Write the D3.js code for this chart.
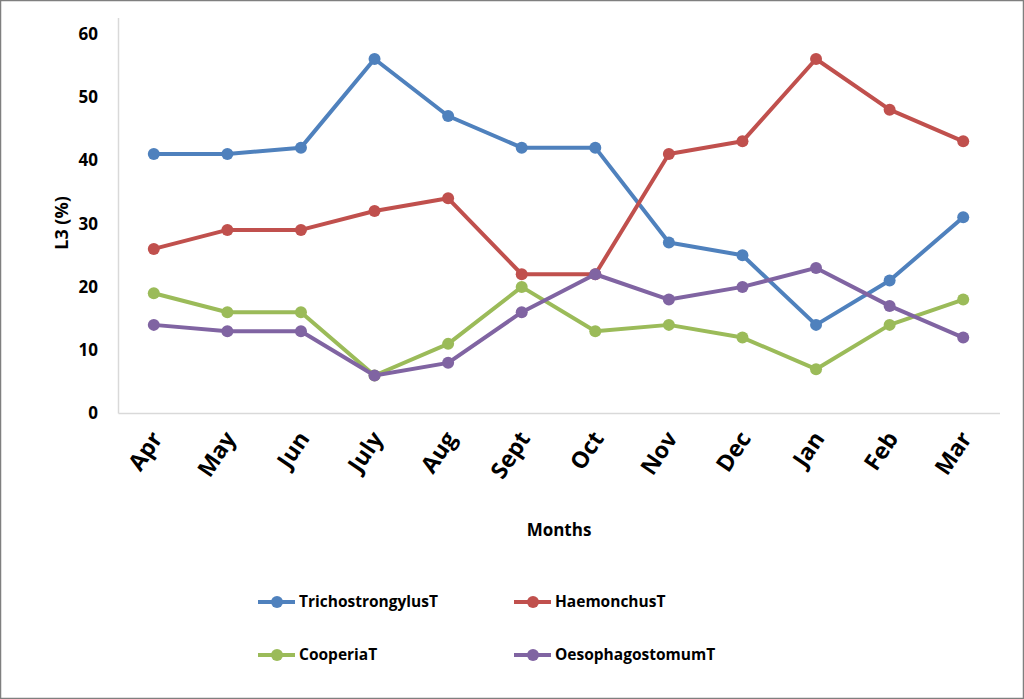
<!DOCTYPE html>
<html>
<head>
<meta charset="utf-8">
<script src="https://cdn.jsdelivr.net/npm/d3@7"></script>
<style>
  body { margin: 0; background: #fff; }
  text { font-family: "Open Sans", "Noto Sans", sans-serif; font-weight: 700; fill: #000; }
</style>
</head>
<body>
<div id="chart"></div>
<script>
const months = ["Apr", "May", "Jun", "July", "Aug", "Sept", "Oct", "Nov", "Dec", "Jan", "Feb", "Mar"];
const trichostrongylus = [41, 41, 42, 56, 47, 42, 42, 27, 25, 14, 21, 31];
const haemonchus = [26, 29, 29, 32, 34, 22, 22, 41, 43, 56, 48, 43];
const cooperia = [19, 16, 16, 6, 11, 20, 13, 14, 12, 7, 14, 18];
const oesophagostomum = [14, 13, 13, 6, 8, 16, 22, 18, 20, 23, 17, 12];
const yTicks = [0, 10, 20, 30, 40, 50, 60];

const series = [
  { name: "TrichostrongylusT", values: trichostrongylus, color: "#4F81BD" },
  { name: "HaemonchusT", values: haemonchus, color: "#C0504D" },
  { name: "CooperiaT", values: cooperia, color: "#9BBB59" },
  { name: "OesophagostomumT", values: oesophagostomum, color: "#8064A2" },
];

const W = 1024, H = 699;
const svg = d3.select("#chart").append("svg")
  .attr("width", W).attr("height", H);

// outer border
svg.append("rect")
  .attr("x", 0.5).attr("y", 0.5)
  .attr("width", W - 1).attr("height", H - 1)
  .attr("fill", "#fff").attr("stroke", "#7f7f7f").attr("stroke-width", 1.5);

const x = d3.scalePoint().domain(months).range([117, 1000]).padding(0.5);
const y = d3.scaleLinear().domain([0, 60]).range([413.5, 33.7]);

// axis lines
svg.append("line")
  .attr("x1", 118.5).attr("x2", 118.5)
  .attr("y1", 18).attr("y2", y(0))
  .attr("stroke", "#d9d9d9").attr("stroke-width", 1.5);
svg.append("line")
  .attr("x1", 118.5).attr("x2", 1000)
  .attr("y1", y(0)).attr("y2", y(0))
  .attr("stroke", "#d9d9d9").attr("stroke-width", 1.5);

// y tick labels
const yAxis = d3.axisLeft(y).tickValues(yTicks).tickSize(0).tickPadding(0);
const gy = svg.append("g").attr("transform", "translate(98,0)").call(yAxis);
gy.select(".domain").remove();
gy.selectAll("text")
  .style("font-size", "17px")
  .style("font-family", "'Open Sans', sans-serif")
  .style("font-weight", 700)
  .attr("fill", "#000");

// x tick labels
const xAxis = d3.axisBottom(x).tickSize(0).tickPadding(0);
const gx = svg.append("g").attr("transform", `translate(0,${y(0)})`).call(xAxis);
gx.select(".domain").remove();
gx.selectAll("text")
  .style("font-size", "23px")
  .style("font-family", "'Open Sans', sans-serif")
  .style("font-weight", 700)
  .attr("fill", "#000")
  .attr("text-anchor", "end")
  .attr("dy", null)
  .attr("y", 0)
  .attr("transform", "translate(9,25) rotate(-56)");

// stray dot beside Nov
svg.append("text")
  .attr("x", x("Nov") + 3).attr("y", 443)
  .style("font-size", "10px")
  .text(".");

// axis titles
svg.append("text")
  .attr("transform", `translate(68,223) rotate(-90)`)
  .attr("text-anchor", "middle")
  .style("font-size", "18px")
  .text("L3 (%)");

svg.append("text")
  .attr("x", 559).attr("y", 536)
  .attr("text-anchor", "middle")
  .style("font-size", "17px")
  .text("Months");

// lines and markers
const line = d3.line()
  .x((d, i) => x(months[i]))
  .y((d) => y(d));

const g = svg.selectAll(".series")
  .data(series)
  .enter()
  .append("g")
  .attr("class", "series");

g.append("path")
  .attr("d", (d) => line(d.values))
  .attr("fill", "none")
  .attr("stroke", (d) => d.color)
  .attr("stroke-width", 4)
  .attr("stroke-linejoin", "round");

g.selectAll("circle")
  .data((d) => d.values.map((v, i) => ({ v, i, color: d.color })))
  .enter()
  .append("circle")
  .attr("cx", (d) => x(months[d.i]))
  .attr("cy", (d) => y(d.v))
  .attr("r", 6)
  .attr("fill", (d) => d.color);

// legend
const legendPos = [
  { x: 258, y: 602 },
  { x: 514, y: 602 },
  { x: 258, y: 655 },
  { x: 514, y: 655 },
];

const legend = svg.selectAll(".legend")
  .data(series)
  .enter()
  .append("g")
  .attr("class", "legend")
  .attr("transform", (d, i) => `translate(${legendPos[i].x},${legendPos[i].y})`);

legend.append("line")
  .attr("x1", 0).attr("x2", 37)
  .attr("y1", 0).attr("y2", 0)
  .attr("stroke", (d) => d.color)
  .attr("stroke-width", 4);

legend.append("circle")
  .attr("cx", 19).attr("cy", 0).attr("r", 6)
  .attr("fill", (d) => d.color);

legend.append("text")
  .attr("x", 41).attr("y", 0)
  .attr("dy", "0.35em")
  .style("font-size", "15.5px")
  .text((d) => d.name);
</script>
</body>
</html>
